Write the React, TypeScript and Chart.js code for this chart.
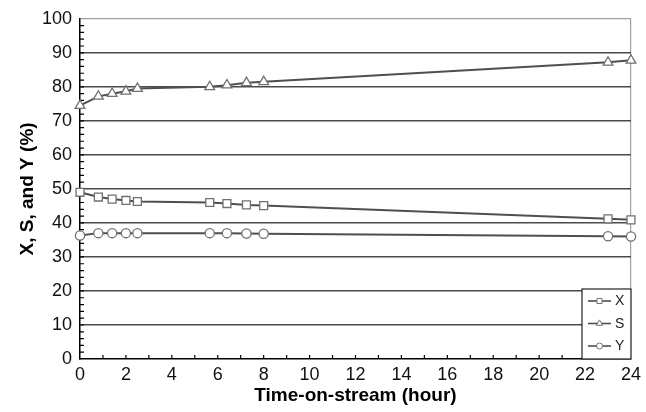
import React, { useEffect, useRef } from 'react';
import { Chart, registerables } from 'chart.js';
import { drawPoint } from 'chart.js/helpers';

Chart.register(...registerables);

// ---- Data ----
const hours = [0, 0.8, 1.4, 2.0, 2.5, 5.65, 6.4, 7.25, 8.0, 23, 24];
const conversionX = [49.0, 47.6, 47.0, 46.6, 46.3, 46.0, 45.7, 45.3, 45.1, 41.2, 40.9];
const selectivityS = [74.5, 77.2, 78.0, 78.7, 79.5, 80.0, 80.5, 81.2, 81.5, 87.2, 87.8];
const yieldY = [36.3, 37.0, 37.0, 37.0, 37.0, 37.0, 37.0, 36.9, 36.8, 36.1, 36.0];
const seriesLabels = ['X', 'S', 'Y'];
const seriesMarkers = ['rect', 'triangle', 'circle'];
const seriesValues = [conversionX, selectivityS, yieldY];
const xAxisTitle = 'Time-on-stream (hour)';
const yAxisTitle = 'X, S, and Y (%)';

const FONT = "'Liberation Sans', Arial, sans-serif";
const LINE_COLOR = '#4f4f4f';
const MARKER_COLOR = '#707070';

const minorTicksPlugin = {
  id: 'minorTicks',
  beforeDatasetsDraw(chart: any) {
    const { ctx, chartArea, scales } = chart;
    const xs = scales.x;
    const ys = scales.y;
    ctx.save();
    ctx.strokeStyle = '#000';
    ctx.lineWidth = 1.2;
    ctx.beginPath();
    for (let v = 1; v < 24; v += 1) {
      const px = xs.getPixelForValue(v);
      ctx.moveTo(px, chartArea.bottom);
      ctx.lineTo(px, chartArea.bottom - 4);
    }
    for (let v = 2; v < 100; v += 2) {
      const py = ys.getPixelForValue(v);
      ctx.moveTo(chartArea.left, py);
      ctx.lineTo(chartArea.left + 4, py);
    }
    ctx.stroke();
    ctx.restore();
  },
};

const insideLegendPlugin = {
  id: 'insideLegend',
  afterDatasetsDraw(chart: any) {
    const { ctx, chartArea } = chart;
    const w = 49;
    const h = 70;
    const left = chartArea.right - w;
    const top = chartArea.bottom - h;
    ctx.save();
    ctx.fillStyle = '#fff';
    ctx.fillRect(left, top, w, h);
    ctx.strokeStyle = '#222';
    ctx.lineWidth = 1.2;
    ctx.strokeRect(left, top, w, h);
    chart.data.datasets.forEach((ds: any, i: number) => {
      const cy = top + 12 + i * 22.5;
      ctx.strokeStyle = LINE_COLOR;
      ctx.lineWidth = 1.6;
      ctx.beginPath();
      ctx.moveTo(left + 6, cy);
      ctx.lineTo(left + 29, cy);
      ctx.stroke();
      ctx.fillStyle = '#fff';
      ctx.strokeStyle = MARKER_COLOR;
      ctx.lineWidth = 1;
      drawPoint(ctx, { pointStyle: ds.pointStyle, rotation: 0, radius: ds.pointStyle === 'circle' ? 3 : 3.6, borderWidth: 1 }, left + 17.5, cy);
      ctx.fillStyle = '#222';
      ctx.font = `14px ${FONT}`;
      ctx.textBaseline = 'middle';
      ctx.textAlign = 'left';
      ctx.fillText(ds.label, left + 33, cy + 0.5);
    });
    ctx.restore();
  },
};

export default function App() {
  const canvasRef = useRef<HTMLCanvasElement | null>(null);

  useEffect(() => {
    document.body.style.margin = '0';
    const canvas = canvasRef.current;
    if (!canvas) return;
    const datasets = seriesLabels.map((label, i) => ({
      label,
      data: hours.map((h, j) => ({ x: h, y: seriesValues[i][j] })),
      borderColor: LINE_COLOR,
      borderWidth: 2,
      pointStyle: seriesMarkers[i],
      pointRadius: seriesMarkers[i] === 'circle' ? 4.6 : 5.6,
      pointBackgroundColor: '#fff',
      pointBorderColor: MARKER_COLOR,
      pointBorderWidth: 1.3,
      tension: 0,
      clip: false,
    }));
    const chart = new Chart(canvas, {
      type: 'line',
      data: { datasets },
      plugins: [minorTicksPlugin, insideLegendPlugin],
      options: {
        animation: false,
        responsive: false,
        maintainAspectRatio: false,
        layout: { padding: { top: 17, right: 10, left: 0, bottom: 0 }, autoPadding: false } as any,
        plugins: { legend: { display: false }, tooltip: { enabled: false } },
        scales: {
          x: {
            type: 'linear',
            min: 0,
            max: 24,
            afterFit: (s: any) => { s.height = 53; },
            ticks: { stepSize: 2, maxRotation: 0, autoSkip: false, padding: 5, color: '#111', font: { family: FONT, size: 18 } },
            grid: {
              drawTicks: false,
              lineWidth: 1.2,
              color: (c: any) => (c.tick && c.tick.value === 24 ? '#a0a0a0' : 'rgba(0,0,0,0)'),
            },
            border: { display: true, color: '#000', width: 1.5 },
            title: { display: true, text: xAxisTitle, color: '#000', padding: { top: 0, bottom: 5 }, font: { family: FONT, size: 19, weight: 'bold' } },
          },
          y: {
            min: 0,
            max: 100,
            afterFit: (s: any) => { s.width = 80; },
            ticks: { stepSize: 10, padding: 8, color: '#111', font: { family: FONT, size: 18 } },
            grid: {
              drawTicks: false,
              lineWidth: (c: any) => (c.tick && c.tick.value === 100 ? 1.2 : 1.6),
              color: (c: any) => {
                const v = c.tick ? c.tick.value : -1;
                if (v === 0) return 'rgba(0,0,0,0)';
                if (v === 100) return '#a0a0a0';
                return '#4a4a4a';
              },
            },
            border: { display: true, color: '#000', width: 1.5 },
            title: { display: true, text: yAxisTitle, color: '#000', padding: { top: 16, bottom: 0 }, font: { family: FONT, size: 19, weight: 'bold' } },
          },
        },
      } as any,
    });
    return () => chart.destroy();
  }, []);

  return (
    <div style={{ width: 646, height: 412 }}>
      <canvas ref={canvasRef} width={646} height={412} style={{ display: 'block' }} />
    </div>
  );
}
